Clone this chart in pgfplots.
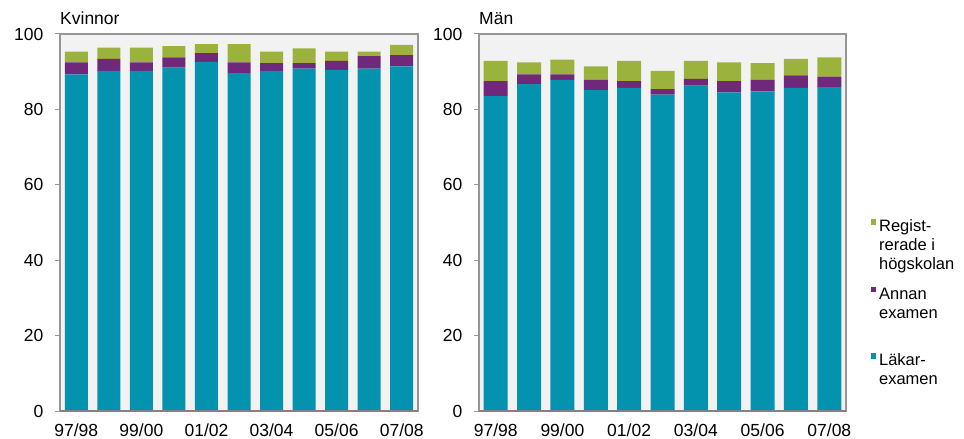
\documentclass[border=0pt]{standalone}
\usepackage{fontspec}
\setmainfont{Liberation Sans}
\usepackage{pgfplots}
\usepackage{pgfplotstable}
\pgfplotsset{compat=1.18}
\definecolor{cteal}{RGB}{4,147,175}
\definecolor{cpurple}{RGB}{112,40,122}
\definecolor{cgreen}{RGB}{155,178,60}
\definecolor{cbg}{RGB}{242,242,242}
\definecolor{cframe}{RGB}{150,150,150}
\definecolor{cbottom}{RGB}{130,130,130}

\pgfplotstableread{
x t p g
0 89.3 3.2 2.8
1 90.2 3.2 3.0
2 90.2 2.3 3.9
3 91.1 2.7 3.0
4 92.6 2.3 2.4
5 89.6 2.9 4.8
6 90.2 2.1 3.0
7 90.8 1.5 3.9
8 90.5 2.4 2.4
9 90.8 3.3 1.2
10 91.4 3.0 2.7
}\kvinnor

\pgfplotstableread{
x t p g
0 83.5 4.0 5.4
1 86.7 2.6 3.2
2 87.8 1.5 3.9
3 85.1 2.7 3.6
4 85.7 1.8 5.4
5 83.9 1.5 4.8
6 86.3 1.8 4.8
7 84.5 3.0 5.0
8 84.8 3.0 4.5
9 85.7 3.3 4.4
10 85.9 2.8 5.1
}\man

\pgfplotsset{
  myaxis/.style={
    scale only axis,
    height=377bp,
    ymin=0, ymax=100,
    xmin=-0.5, xmax=10.5,
    ybar stacked,
    axis background/.style={fill=cbg},
    axis line style={draw=cframe, line width=1.2bp},
    ytick={0,20,...,100},
    ytick pos=left,
    xtick pos=bottom,
    tick align=outside,
    major tick length=5bp,
    ytick style={draw=cframe, line width=1bp},
    xtick style={draw=none},
    xtick={0,2,...,10},
    xticklabels={97/98,99/00,01/02,03/04,05/06,07/08},
    tick label style={font=\fontsize{17.5bp}{19bp}\selectfont},
    /pgf/number format/assume math mode=true,
    yticklabel style={anchor=east, inner sep=0pt, xshift=-11.5bp},
    xticklabel style={anchor=north, inner sep=0pt, yshift=-8bp},
    every axis title/.style={at={(0,1)}, anchor=base west, inner sep=0pt, yshift=9bp,
      font=\fontsize{17.5bp}{19bp}\selectfont},
    after end axis/.code={
      \draw[cbottom, line width=2bp] (rel axis cs:0,0) -- (rel axis cs:1,0);
    },
  }
}

\begin{document}
\begin{tikzpicture}
\useasboundingbox (0,0) rectangle (964bp,439bp);

\begin{axis}[myaxis,
  at={(60bp,28bp)}, anchor=south west,
  width=358bp, bar width=23bp,
  title={Kvinnor}]
\addplot[fill=cteal, draw=none] table[x=x, y=t] {\kvinnor};
\addplot[fill=cpurple, draw=none] table[x=x, y=p] {\kvinnor};
\addplot[fill=cgreen, draw=none] table[x=x, y=g] {\kvinnor};
\end{axis}

\begin{axis}[myaxis,
  at={(479bp,28bp)}, anchor=south west,
  width=367bp, bar width=24bp,
  title={Män},
  reverse legend,
  legend image code/.code={\fill[#1] (0bp,-8.3bp) rectangle (5.5bp,-2.8bp);},
  legend style={at={(1.067,0.5154)}, anchor=north west, draw=none, fill=none,
    inner sep=0pt, outer sep=0pt, row sep=10.5bp, column sep=1bp,
    font=\fontsize{16.5bp}{19bp}\selectfont,
    cells={anchor=north west, align=left, inner sep=0pt}},
  ]
\addplot[fill=cteal, draw=none] table[x=x, y=t] {\man};
\addlegendentry{\strut Läkar-\\examen}
\addplot[fill=cpurple, draw=none] table[x=x, y=p] {\man};
\addlegendentry{\strut Annan\\examen\\[-1bp]\mbox{}}
\addplot[fill=cgreen, draw=none] table[x=x, y=g] {\man};
\addlegendentry{\strut Regist-\\rerade i\\högskolan}
\end{axis}
\end{tikzpicture}
\end{document}
